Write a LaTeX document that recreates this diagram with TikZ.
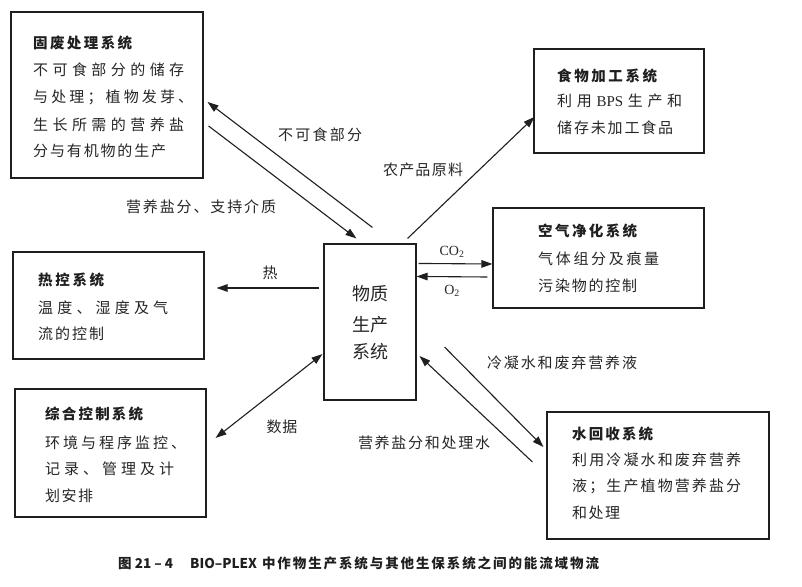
\documentclass[tikz,border=0pt]{standalone}
\usepackage{fontspec}
\setmainfont{Liberation Serif}
\newfontfamily\cjk{Noto Sans CJK SC}
\usetikzlibrary{arrows.meta,calc}
\def\spr#1#2{\hbox to #1pt{\sprA#2\relax}}
\def\sprA#1{#1\sprB}
\def\sprB#1{\ifx\relax#1\else\hfil#1\expandafter\sprB\fi}
\begin{document}
\begin{tikzpicture}[x=1pt,y=-1pt,
  ink/.style={black!88},
  box/.style={draw=black!88, line width=1.1pt, inner sep=0pt},
  body/.style={anchor=west, inner sep=0pt, text=black!85, font=\cjk\fontsize{15}{18}\selectfont},
  ttl/.style={anchor=west, inner sep=0pt, text=black!88, font=\cjk\bfseries\fontsize{14.5}{18}\selectfont},
  lab/.style={anchor=center, inner sep=0pt, text=black!85, font=\cjk\fontsize{15}{18}\selectfont},
  chem/.style={anchor=center, inner sep=0pt, text=black!85, font=\fontsize{14}{16}\selectfont},
  ctr/.style={anchor=center, inner sep=0pt, text=black!85, font=\cjk\fontsize{18}{20}\selectfont},
  tipp/.tip={Triangle[length=11pt,width=7.5pt]},
  arr/.style={draw=black!88, line width=1.1pt, -tipp},
  darr/.style={draw=black!88, line width=1.1pt, tipp-tipp}]
\useasboundingbox (0,0) rectangle (802,586);
\fill[white] (0,0) rectangle (802,586);

% boxes
\node[box, minimum width=192pt, minimum height=166pt] (sw) at (107,95) {};
\node[box, minimum width=170pt, minimum height=104pt] (fp) at (619,101) {};
\node[box, minimum width=211pt, minimum height=100pt] (ap) at (598.5,258) {};
\node[box, minimum width=191pt, minimum height=107pt] (tc) at (108.5,305.5) {};
\node[box, minimum width=191pt, minimum height=128pt] (ic) at (110.5,453) {};
\node[box, minimum width=92pt, minimum height=156pt] (mp) at (370,322) {};
\node[box, minimum width=222pt, minimum height=127pt] (wr) at (658,475.5) {};

% solid waste
\node[ttl] (swt) at (33,43) {\spr{99}{固废处理系统}};
\node[body] (sw1) at (33,69.5) {\spr{151}{不可食部分的储存}};
\node[body] (sw2) at (33,97.5) {\spr{160}{与处理；植物发芽、}};
\node[body] (sw3) at (33,125) {\spr{151}{生长所需的营养盐}};
\node[body] (sw4) at (33,151) {\spr{133}{分与有机物的生产}};

% food
\node[ttl] (fpt) at (557,76) {\spr{100}{食物加工系统}};
\node[body] (fp1) at (557,101) {\hbox to 125pt{利\hfil 用\hfil{\rmfamily BPS}\hfil 生\hfil 产\hfil 和}};
\node[body] (fp2) at (557,128) {\spr{116}{储存未加工食品}};

% air
\node[ttl] (apt) at (538,231) {\spr{99}{空气净化系统}};
\node[body] (ap1) at (538,259) {\spr{121}{气体组分及痕量}};
\node[body] (ap2) at (538,286) {\spr{99}{污染物的控制}};

% thermal
\node[ttl] (tct) at (38,280) {\spr{66}{热控系统}};
\node[body] (tc1) at (38,307.5) {\spr{130}{温度、湿度及气}};
\node[body] (tc2) at (38,334) {\spr{66}{流的控制}};

% integrated control
\node[ttl] (ict) at (45,414) {\spr{98}{综合控制系统}};
\node[body] (ic1) at (45,442.5) {\spr{141}{环境与程序监控、}};
\node[body] (ic2) at (45,469) {\spr{129}{记录、管理及计}};
\node[body] (ic3) at (45,496) {\spr{48}{划安排}};

% water
\node[ttl] (wrt) at (572,434) {\spr{81}{水回收系统}};
\node[body] (wr1) at (572,460) {\spr{169}{利用冷凝水和废弃营养}};
\node[body] (wr2) at (572,486.5) {\spr{169}{液；生产植物营养盐分}};
\node[body] (wr3) at (572,513) {\spr{48}{和处理}};

% centre
\node[ctr] (mp1) at (370.5,293.5) {物质};
\node[ctr] (mp2) at (370.5,325) {生产};
\node[ctr] (mp3) at (370.5,352) {系统};

% connectors
\draw[arr] ($(mp.north west)+(49,-16)$) -- ($(sw.east)+(4,7)$);
\draw[arr] ($(sw.east)+(5,31)$) -- ($(mp.north west)+(33,-5)$);
\draw[arr] ($(mp.north east)+(-9,-5)$) -- ($(fp.west)+(1,16)$);
\draw[arr] ($(mp.north east)+(2,20)$) -- ($(ap.west)+(0,6)$);
\draw[arr] ($(ap.west)+(-5,19)$) -- ($(mp.north east)+(0,33)$);
\draw[arr] ($(mp.west)+(-4,-34)$) -- ($(tc.east)+(12,-17.5)$);
\draw[darr] ($(ic.east)+(9,-15)$) -- ($(mp.west)+(-1,32)$);
\draw[arr] ($(mp.east)+(28,25)$) -- ($(wr.west)+(-3,-28.5)$);
\draw[arr] ($(wr.west)+(-14,-13.5)$) -- ($(mp.east)+(3,34)$);

% labels
\node[lab] (l1) at (320,135) {\spr{84}{不可食部分}};
\node[lab] (l2) at (201,207) {\spr{150}{营养盐分、支持介质}};
\node[lab] (l3) at (423,170) {\spr{80}{农产品原料}};
\node[lab] (l4) at (270,273) {热};
\node[lab] (l5) at (282,427) {\spr{31}{数据}};
\node[lab] (l6) at (562,363) {\spr{150}{冷凝水和废弃营养液}};
\node[lab] (l7) at (424,443) {\spr{132}{营养盐分和处理水}};
\node[chem] (l8) at (452,252) {CO\textsubscript{2}};
\node[chem] (l9) at (452,291) {O\textsubscript{2}};

% caption
\node[anchor=west, inner sep=0pt, text=black!88, font=\cjk\bfseries\fontsize{13.5}{15}\selectfont] (cap) at (118,563)
  {\makebox[72pt][l]{图 21 – 4}BIO–PLEX\hspace{5pt}\spr{337}{中作物生产系统与其他生保系统之间的能流域物流}};
\end{tikzpicture}
\end{document}
